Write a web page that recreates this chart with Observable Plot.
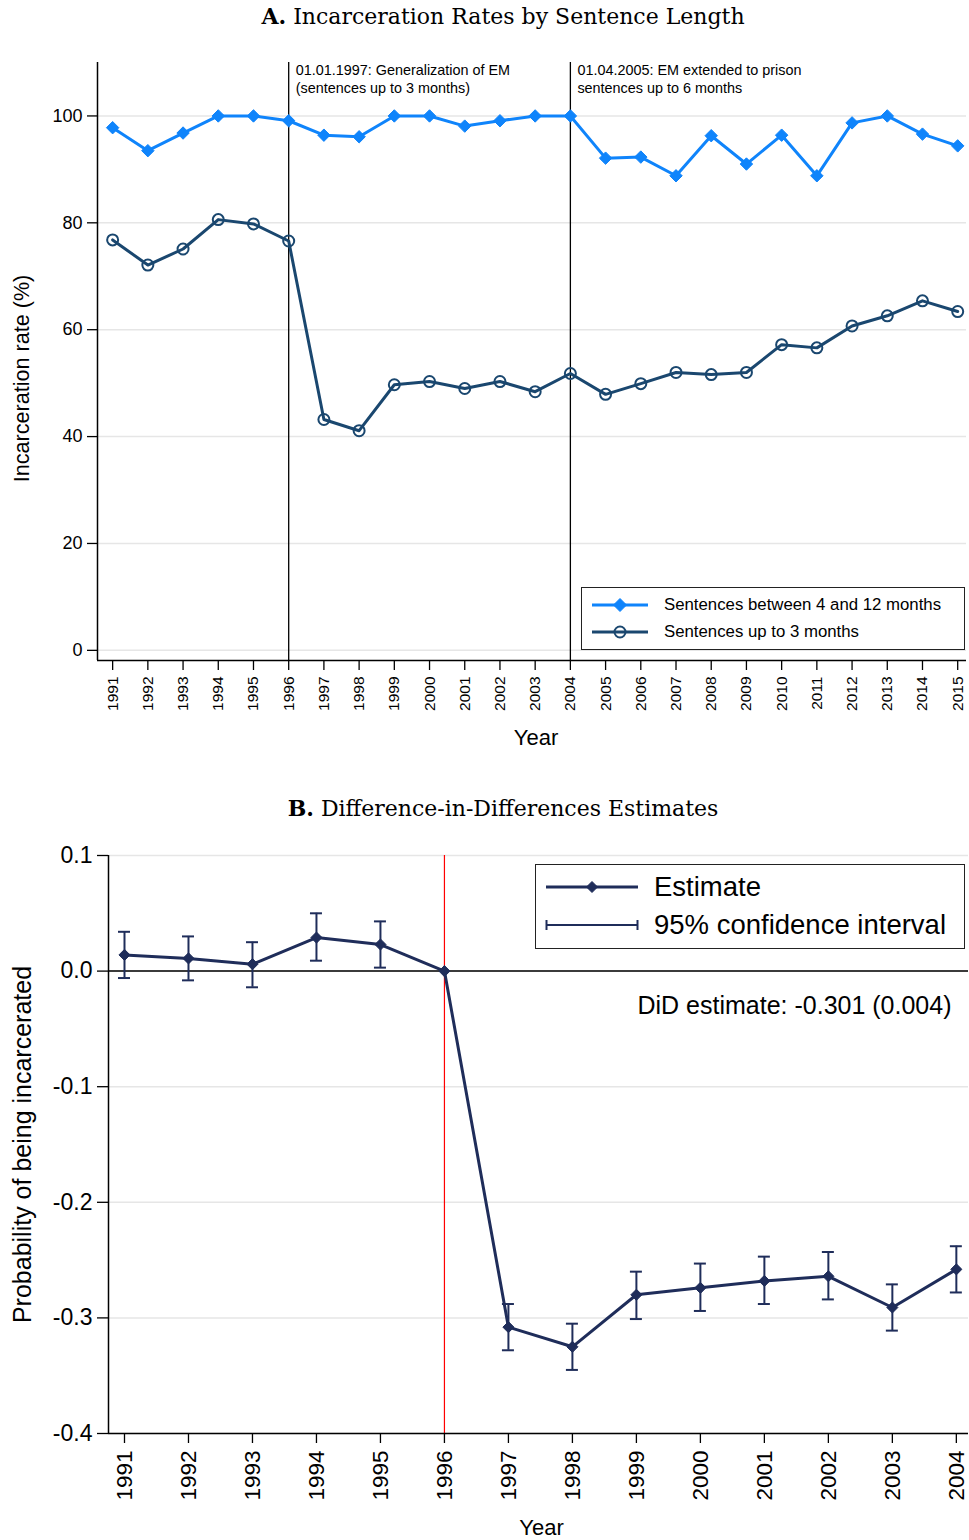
<!DOCTYPE html>
<html>
<head>
<meta charset="utf-8">
<script src="https://cdn.jsdelivr.net/npm/d3@7"></script>
<script src="https://cdn.jsdelivr.net/npm/@observablehq/plot@0.6"></script>
<style>
  html, body { margin: 0; padding: 0; background: #fff; }
  body { width: 969px; height: 1540px; position: relative; overflow: hidden; font-family: "Liberation Sans", Arial, sans-serif; }
  .title { position: absolute; font-family: "DejaVu Serif", serif; font-size: 22px; white-space: nowrap; transform: translateX(-50%); color: #000; }
  .title b { font-weight: bold; }
  .chart { position: absolute; left: 0; }
  .legend { position: absolute; border: 1.5px solid #222; background: #fff; box-sizing: border-box; }
  .legend .row { position: absolute; left: 0; display: flex; align-items: center; white-space: nowrap; color: #000; }
  .legend svg { display: block; }
</style>
</head>
<body>
<div class="title" id="titleA" style="left:503px; top:3px;"><b>A.</b> Incarceration Rates by Sentence Length</div>
<div class="chart" id="chartA" style="top:30px;"></div>
<div class="legend" id="legendA" style="left:581px; top:587px; width:384px; height:63px;"></div>

<div class="title" id="titleB" style="left:503px; top:795px;"><b>B.</b> Difference-in-Differences Estimates</div>
<div class="chart" id="chartB" style="top:830px;"></div>
<div class="legend" id="legendB" style="left:535px; top:864px; width:430px; height:85px;"></div>

<script>
// ---------------- Panel A data ----------------
const yearsA = [1991,1992,1993,1994,1995,1996,1997,1998,1999,2000,2001,2002,2003,2004,2005,2006,2007,2008,2009,2010,2011,2012,2013,2014,2015];
const sentences4to12 = [97.8,93.5,96.8,100,100,99.1,96.4,96.1,100,100,98.1,99.1,100,100,92.1,92.3,88.8,96.3,91.0,96.4,88.8,98.7,100,96.6,94.4];
const sentencesUpTo3 = [76.8,72.1,75.1,80.6,79.8,76.6,43.2,41.1,49.7,50.3,49.0,50.3,48.4,51.8,47.9,49.9,52.0,51.6,52.0,57.2,56.6,60.7,62.6,65.4,63.4];
const yTicksA = [0,20,40,60,80,100];
const reformYears = [1996, 2004];
const reformNotes = ["01.01.1997: Generalization of EM\n(sentences up to 3 months)", "01.04.2005: EM extended to prison\nsentences up to 6 months"];
const seriesNamesA = ["Sentences between 4 and 12 months", "Sentences up to 3 months"];

// ---------------- Panel B data ----------------
const yearsB = [1991,1992,1993,1994,1995,1996,1997,1998,1999,2000,2001,2002,2003,2004];
const estimates = [0.014,0.011,0.006,0.029,0.023,0,-0.308,-0.325,-0.280,-0.274,-0.268,-0.264,-0.291,-0.258];
const ciLow  = [-0.006,-0.008,-0.014,0.009,0.003,null,-0.328,-0.345,-0.301,-0.294,-0.288,-0.284,-0.311,-0.278];
const ciHigh = [0.034,0.030,0.025,0.050,0.043,null,-0.288,-0.305,-0.260,-0.253,-0.247,-0.243,-0.271,-0.238];
const yTicksB = [-0.4,-0.3,-0.2,-0.1,0,0.1];
const treatmentYear = [1996];
const didText = "DiD estimate: -0.301 (0.004)";
const legendNamesB = ["Estimate", "95% confidence interval"];

const colLight = "#0f84fb";
const colDark = "#1a476f";
const colNavy = "#1f2d5a";
const font = "'Liberation Sans', Arial, sans-serif";

// ---------------- Panel A ----------------
const dataLong = yearsA.map((year, i) => ({year, value: sentences4to12[i]}));
const dataShort = yearsA.map((year, i) => ({year, value: sentencesUpTo3[i]}));
const notes = reformYears.map((year, i) => ({year, text: reformNotes[i]}));
const xDomA = [1990.57, 2015.25];
const yDomA = [-1.9, 110];

const plotA = Plot.plot({
  width: 969, height: 730,
  marginTop: 32, marginBottom: 100, marginLeft: 97, marginRight: 3,
  style: {fontFamily: font, background: "transparent", color: "#000"},
  x: {domain: xDomA},
  y: {domain: yDomA},
  marks: [
    Plot.gridY(yTicksA, {stroke: "#e6e6e6", strokeOpacity: 1, strokeWidth: 1.5}),
    Plot.ruleX(reformYears, {stroke: "#000", strokeWidth: 1.3}),
    Plot.ruleX([xDomA[0]], {stroke: "#000", strokeWidth: 1.5}),
    Plot.ruleY([yDomA[0]], {stroke: "#000", strokeWidth: 1.5}),
    Plot.axisY({ticks: yTicksA, tickSize: 10, tickPadding: 5, fontSize: 18, label: null, strokeWidth: 1.3}),
    Plot.axisX({ticks: yearsA, tickFormat: d => String(d), tickRotate: -90, tickSize: 10, tickPadding: 6, fontSize: 15.5, label: null, strokeWidth: 1.3}),
    Plot.line(dataLong, {x: "year", y: "value", stroke: colLight, strokeWidth: 3}),
    Plot.dot(dataLong, {x: "year", y: "value", symbol: "diamond2", r: 5.6, fill: colLight, stroke: colLight, strokeWidth: 1}),
    Plot.line(dataShort, {x: "year", y: "value", stroke: colDark, strokeWidth: 3}),
    Plot.dot(dataShort, {x: "year", y: "value", symbol: "circle", r: 5.5, fill: "none", stroke: colDark, strokeWidth: 2}),
    Plot.text(notes, {x: "year", text: "text", frameAnchor: "top", textAnchor: "start", lineAnchor: "top", dx: 7, dy: 0, fontSize: 14.4, lineHeight: 1.25, fill: "#000"}),
    Plot.text(["Incarceration rate (%)"], {frameAnchor: "left", rotate: -90, dx: -75, dy: 17, fontSize: 21.6, fill: "#000", textAnchor: "middle", lineAnchor: "middle"}),
    Plot.text(["Year"], {frameAnchor: "bottom", dx: 4, dy: 77, fontSize: 22, fill: "#000", textAnchor: "middle", lineAnchor: "middle"})
  ]
});
document.getElementById("chartA").append(plotA);

// Legend helper
function legendRow(container, top, left, sampleSvg, label, fontSize) {
  const row = document.createElement("div");
  row.className = "row";
  row.style.top = top + "px";
  row.style.left = left + "px";
  row.innerHTML = sampleSvg + `<span style="font-size:${fontSize}px; margin-left:${label.gap}px">${label.text}</span>`;
  container.append(row);
}
const diamondPath = (cx, cy, r, c) => `<path d="M${cx},${cy - r}L${cx + r},${cy}L${cx},${cy + r}L${cx - r},${cy}Z" fill="${c}" stroke="${c}"/>`;

// Legend A
const legA = document.getElementById("legendA");
legendRow(legA, 6, 9,
  `<svg width="58" height="22"><line x1="1" x2="57" y1="11" y2="11" stroke="${colLight}" stroke-width="3"/>${diamondPath(29, 11, 6.5, colLight)}</svg>`,
  {text: seriesNamesA[0], gap: 15}, 16.8);
legendRow(legA, 33, 9,
  `<svg width="58" height="22"><line x1="1" x2="57" y1="11" y2="11" stroke="${colDark}" stroke-width="3"/><circle cx="29" cy="11" r="5.5" fill="none" stroke="${colDark}" stroke-width="2"/></svg>`,
  {text: seriesNamesA[1], gap: 15}, 16.8);

// ---------------- Panel B ----------------
const dataB = yearsB.map((year, i) => ({year, est: estimates[i], lo: ciLow[i], hi: ciHigh[i]}));
const dataCI = dataB.filter(d => d.lo != null);
const xDomB = [1990.75, 2004.19];
const yDomB = [-0.4, 0.1];

const plotB = Plot.plot({
  width: 969, height: 710,
  marginTop: 25, marginBottom: 107, marginLeft: 108, marginRight: 1,
  style: {fontFamily: font, background: "transparent", color: "#000"},
  x: {domain: xDomB},
  y: {domain: yDomB},
  marks: [
    Plot.gridY(yTicksB, {stroke: "#e6e6e6", strokeOpacity: 1, strokeWidth: 1.5}),
    Plot.ruleY([0], {stroke: "#000", strokeWidth: 1.5}),
    Plot.ruleX(treatmentYear, {stroke: "#ff0000", strokeWidth: 1.2}),
    Plot.ruleX([xDomB[0]], {stroke: "#000", strokeWidth: 1.5}),
    Plot.ruleY([yDomB[0]], {stroke: "#000", strokeWidth: 1.5}),
    Plot.axisY({ticks: yTicksB, tickFormat: d => d.toFixed(1), tickSize: 11, tickPadding: 5, fontSize: 23, label: null, strokeWidth: 1.3}),
    Plot.axisX({ticks: yearsB, tickFormat: d => String(d), tickRotate: -90, tickSize: 10, tickPadding: 7, fontSize: 22.5, label: null, strokeWidth: 1.3}),
    Plot.ruleX(dataCI, {x: "year", y1: "lo", y2: "hi", stroke: colNavy, strokeWidth: 2}),
    Plot.ruleY(dataCI, {x1: "year", x2: "year", y: "lo", insetLeft: -6, insetRight: -6, stroke: colNavy, strokeWidth: 2}),
    Plot.ruleY(dataCI, {x1: "year", x2: "year", y: "hi", insetLeft: -6, insetRight: -6, stroke: colNavy, strokeWidth: 2}),
    Plot.line(dataB, {x: "year", y: "est", stroke: colNavy, strokeWidth: 3}),
    Plot.dot(dataB, {x: "year", y: "est", symbol: "diamond2", r: 5, fill: colNavy, stroke: colNavy, strokeWidth: 1}),
    Plot.text([didText], {frameAnchor: "top-right", dx: -17, dy: 150, fontSize: 25, fill: "#000", textAnchor: "end", lineAnchor: "middle"}),
    Plot.text(["Probability of being incarcerated"], {frameAnchor: "left", rotate: -90, dx: -86, dy: 0, fontSize: 25, fill: "#000", textAnchor: "middle", lineAnchor: "middle"}),
    Plot.text(["Year"], {frameAnchor: "bottom", dx: 3, dy: 94, fontSize: 22, fill: "#000", textAnchor: "middle", lineAnchor: "middle"})
  ]
});
document.getElementById("chartB").append(plotB);

// Legend B
const legB = document.getElementById("legendB");
legendRow(legB, 6, 9,
  `<svg width="94" height="30"><line x1="1" x2="93" y1="15" y2="15" stroke="${colNavy}" stroke-width="3"/>${diamondPath(47, 15, 5.5, colNavy)}</svg>`,
  {text: legendNamesB[0], gap: 15}, 27.5);
legendRow(legB, 44, 9,
  `<svg width="94" height="30"><line x1="1" x2="93" y1="15" y2="15" stroke="${colNavy}" stroke-width="2"/><line x1="1.5" x2="1.5" y1="10" y2="20" stroke="${colNavy}" stroke-width="2"/><line x1="92.5" x2="92.5" y1="10" y2="20" stroke="${colNavy}" stroke-width="2"/></svg>`,
  {text: legendNamesB[1], gap: 15}, 27.5);
</script>
</body>
</html>
